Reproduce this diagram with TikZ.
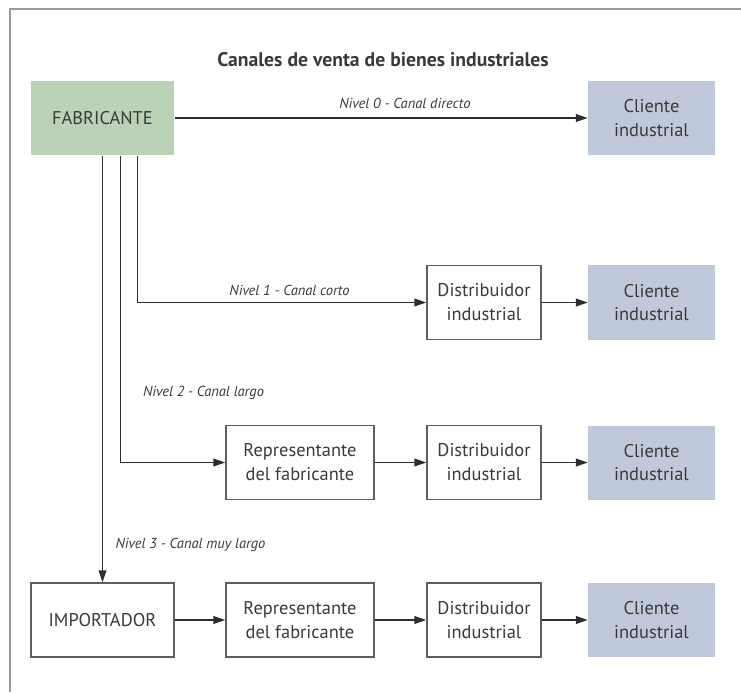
\documentclass[tikz,border=0pt]{standalone}
\usepackage{fontspec}
\setmainfont{PT Sans}
\usetikzlibrary{arrows.meta}
\definecolor{fabgreen}{HTML}{BCD2B7}
\definecolor{cliblue}{HTML}{BFC9DB}
\definecolor{txtgray}{HTML}{3A3A3A}
\definecolor{linegray}{HTML}{2E2E2E}
\definecolor{boxgray}{HTML}{5E5E5E}
\definecolor{framegray}{HTML}{9A9A9A}
\begin{document}
\begin{tikzpicture}[x=0.025cm, y=-0.025cm,
  box/.style={draw=boxgray, line width=1pt, align=center, inner sep=0pt,
    minimum height=1.85cm, text=txtgray, font=\fontsize{13.1}{17}\selectfont},
  fabbox/.style={box, draw=none, fill=fabgreen, minimum width=3.575cm},
  clibox/.style={box, draw=none, fill=cliblue, minimum width=3.15cm},
  distbox/.style={box, minimum width=2.85cm},
  repbox/.style={box, minimum width=3.7cm},
  lbl/.style={text=txtgray, font=\fontsize{10.3}{12}\selectfont\itshape, inner sep=0pt},
  arr/.style={draw=linegray, line width=1.1pt, -{Triangle[length=8.5pt, width=5.5pt]}}]
\useasboundingbox (0,0) rectangle (741,692);
\draw [framegray, line width=1.4pt] (10,692) -- (10,9) -- (741,9);

\node (title) [text=txtgray, font=\fontsize{14}{17}\selectfont\bfseries] at (383,60) {Canales de venta de bienes industriales};

\node (fab) [fabbox] at (102.5,118) {FABRICANTE};
\node (cli0) [clibox] at (651.5,118) {Cliente\\industrial};

\node (dist1) [distbox] at (484,302.5) {Distribuidor\\industrial};
\node (cli1) [clibox] at (651.5,302.5) {Cliente\\industrial};

\node (rep2) [repbox] at (300,462.5) {Representante\\del fabricante};
\node (dist2) [distbox] at (484,462.5) {Distribuidor\\industrial};
\node (cli2) [clibox] at (651.5,462.5) {Cliente\\industrial};

\node (imp) [box, minimum width=3.575cm] at (102.5,620) {IMPORTADOR};
\node (rep3) [repbox] at (300,620) {Representante\\del fabricante};
\node (dist3) [distbox] at (484,620) {Distribuidor\\industrial};
\node (cli3) [clibox] at (651.5,620) {Cliente\\industrial};

% canales
\draw [arr] (fab) -- (cli0);
\draw [arr] ([xshift=0.875cm]fab.south) |- (dist1);
\draw [arr] ([xshift=0.45cm]fab.south) |- (rep2);
\draw [arr] (fab.south) -- (imp.north);

\draw [arr] (dist1) -- (cli1);
\draw [arr] (rep2) -- (dist2);
\draw [arr] (dist2) -- (cli2);
\draw [arr] (imp) -- (rep3);
\draw [arr] (rep3) -- (dist3);
\draw [arr] (dist3) -- (cli3);

\node (lab0) [lbl] at (405,103) {Nivel 0 - Canal directo};
\node (lab1) [lbl] at (289.5,290) {Nivel 1 - Canal corto};
\node (lab2) [lbl] at (203.5,393) {Nivel 2 - Canal largo};
\node (lab3) [lbl] at (190.5,545) {Nivel 3 - Canal muy largo};
\end{tikzpicture}
\end{document}
